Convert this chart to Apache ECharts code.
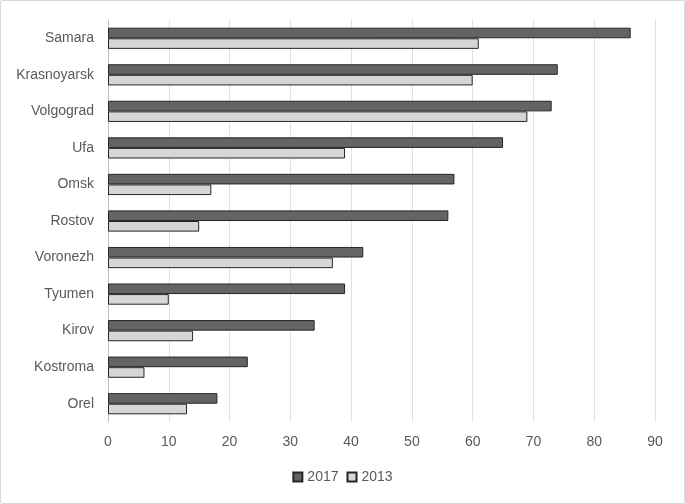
<!DOCTYPE html>
<html><head><meta charset="utf-8">
<script src="https://cdn.jsdelivr.net/npm/echarts@6/dist/echarts.min.js"></script>
<style>html,body{margin:0;padding:0;background:#fff}#c{position:absolute;left:0;top:0;width:683px;height:502px;border:1px solid #d9d9d9;border-radius:2px}</style>
</head><body><div id="c"></div>
<script>
const cities = ["Samara","Krasnoyarsk","Volgograd","Ufa","Omsk","Rostov","Voronezh","Tyumen","Kirov","Kostroma","Orel"];
const v2017 = [86,74,73,65,57,56,42,39,34,23,18];
const v2013 = [61,60,69,39,17,15,37,10,14,6,13];
const xTicks = {min:0,max:90,interval:10};
const chart = echarts.init(document.getElementById('c'));
const font = "Liberation Sans";
chart.setOption({
  animation:false,
  textStyle:{fontFamily:font},
  grid:{left:107,right:29,top:19,bottom:81,containLabel:false},
  legend:{bottom:14,left:'center',icon:'rect',itemWidth:9,itemHeight:9,itemGap:8,
    textStyle:{color:'#595959',fontSize:14,fontFamily:font},
    data:['2017','2013']},
  xAxis:{type:'value',min:xTicks.min,max:xTicks.max,interval:xTicks.interval,
    axisLine:{show:false},axisTick:{show:false},
    axisLabel:{color:'#595959',fontSize:14,margin:13},
    splitLine:{lineStyle:{color:'#e0e0e0'}}},
  yAxis:{type:'category',data:cities,inverse:true,
    axisLine:{lineStyle:{color:'#bfbfbf'}},axisTick:{show:false},
    axisLabel:{color:'#595959',fontSize:14,margin:14}},
  series:[
    {name:'2017',type:'bar',data:v2017,barGap:'0%',barCategoryGap:'42%',
     itemStyle:{color:'#646464',borderColor:'#262626',borderWidth:1}},
    {name:'2013',type:'bar',data:v2013,barGap:'0%',barCategoryGap:'42%',
     itemStyle:{color:'#d6d6d6',borderColor:'#262626',borderWidth:1}}
  ]
});
</script></body></html>
